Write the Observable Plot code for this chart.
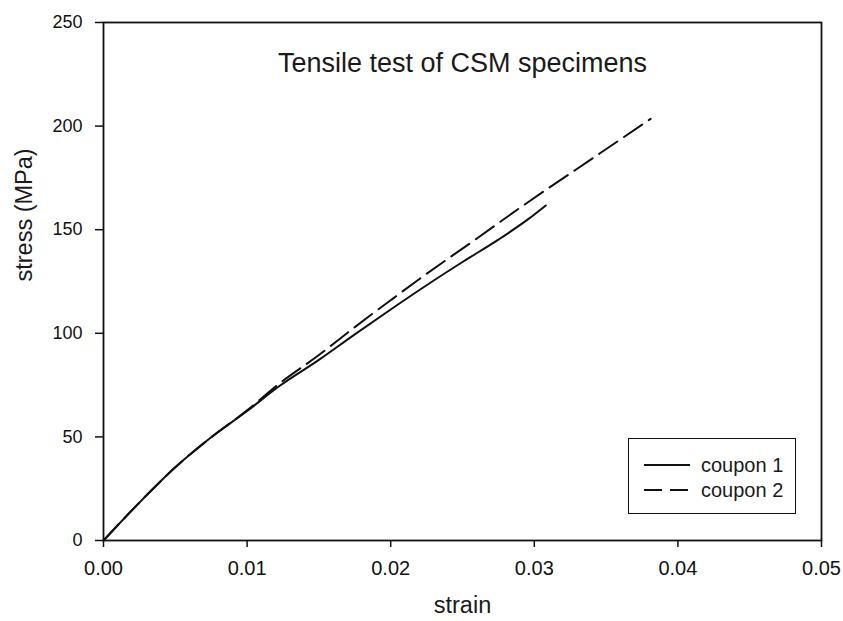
<!DOCTYPE html>
<html>
<head>
<meta charset="utf-8">
<script src="https://cdn.jsdelivr.net/npm/d3@7"></script>
<script src="https://cdn.jsdelivr.net/npm/@observablehq/plot@0.6"></script>
<style>
  html, body { margin: 0; padding: 0; background: #fff; }
  #wrap { position: relative; width: 843px; height: 621px; font-family: "Liberation Sans", Arial, Helvetica, sans-serif; }
  #legend { position: absolute; left: 628px; top: 438px; width: 168px; height: 76px; border: 1.3px solid #111; background: #fff; box-sizing: border-box; }
</style>
</head>
<body>
<div id="wrap"></div>
<script>
// ---- data ----
const title = "Tensile test of CSM specimens";
const xLabel = "strain";
const yLabel = "stress (MPa)";
const seriesNames = ["coupon 1", "coupon 2"];

const coupon1Strain = [0, 0.0025, 0.005, 0.0075, 0.010, 0.0123, 0.015, 0.0175, 0.020, 0.0225, 0.025, 0.0275, 0.0296, 0.0308];
const coupon1Stress = [0, 18.3, 35.3, 49.8, 62.5, 74.8, 87.2, 99.5, 111.5, 123.2, 134.4, 145.2, 155.2, 161.7];

const coupon2Strain = [0, 0.0025, 0.005, 0.0075, 0.010, 0.0123, 0.015, 0.0175, 0.0202, 0.022, 0.0257, 0.0293, 0.0346, 0.0381];
const coupon2Stress = [0, 18.3, 35.3, 49.8, 62.8, 76.0, 89.5, 103.0, 117.0, 126.2, 144.3, 162.0, 187.0, 203.5];

const xTicks = [0, 0.01, 0.02, 0.03, 0.04, 0.05];
const yTicks = [0, 50, 100, 150, 200, 250];

// ---- build table ----
const rows = [];
coupon1Strain.forEach((s, i) => rows.push({series: seriesNames[0], strain: s, stress: coupon1Stress[i]}));
coupon2Strain.forEach((s, i) => rows.push({series: seriesNames[1], strain: s, stress: coupon2Stress[i]}));

const font = "'Liberation Sans', Arial, Helvetica, sans-serif";

const chart = Plot.plot({
  width: 843,
  height: 621,
  marginLeft: 103,
  marginRight: 22,
  marginTop: 22,
  marginBottom: 81,
  style: {fontFamily: font, color: "#111", background: "#fff"},
  x: {domain: [0, 0.05]},
  y: {domain: [0, 250]},
  marks: [
    Plot.frame({stroke: "#111", strokeWidth: 1.8}),
    Plot.axisX({ticks: xTicks, tickFormat: d3.format(".2f"), tickSize: 7, tickPadding: 13, fontSize: 20, label: null, stroke: "#111", strokeWidth: 1.5}),
    Plot.axisY({ticks: yTicks, tickFormat: d => String(d), tickSize: 8, tickPadding: 13, fontSize: 18, label: null, stroke: "#111", strokeWidth: 1.5}),
    Plot.line(rows.filter(d => d.series === seriesNames[0]), {x: "strain", y: "stress", stroke: "#111", strokeWidth: 2, curve: "monotone-x"}),
    Plot.line(rows.filter(d => d.series === seriesNames[1]), {x: "strain", y: "stress", stroke: "#111", strokeWidth: 2, strokeDasharray: "22,8", curve: "monotone-x"}),
    Plot.text([title], {frameAnchor: "top", dy: 30, fontSize: 27, fill: "#1a1a1a", text: d => d}),
    Plot.text([xLabel], {frameAnchor: "bottom", dy: 72, fontSize: 23.5, fill: "#1a1a1a", text: d => d}),
    Plot.text([yLabel], {frameAnchor: "left", dx: -79, rotate: -90, fontSize: 23.5, fill: "#1a1a1a", text: d => d})
  ]
});

const wrap = document.getElementById("wrap");
wrap.appendChild(chart);

// ---- legend ----
const legend = document.createElement("div");
legend.id = "legend";
legend.innerHTML = `
<svg width="168" height="76" style="display:block">
  <line x1="15" x2="61" y1="26" y2="26" stroke="#111" stroke-width="2"/>
  <text x="72" y="33" font-size="20" font-family="${font}" fill="#1a1a1a">${seriesNames[0]}</text>
  <line x1="15" x2="61" y1="51" y2="51" stroke="#111" stroke-width="2" stroke-dasharray="18,8"/>
  <text x="72" y="58" font-size="20" font-family="${font}" fill="#1a1a1a">${seriesNames[1]}</text>
</svg>`;
wrap.appendChild(legend);
</script>
</body>
</html>
